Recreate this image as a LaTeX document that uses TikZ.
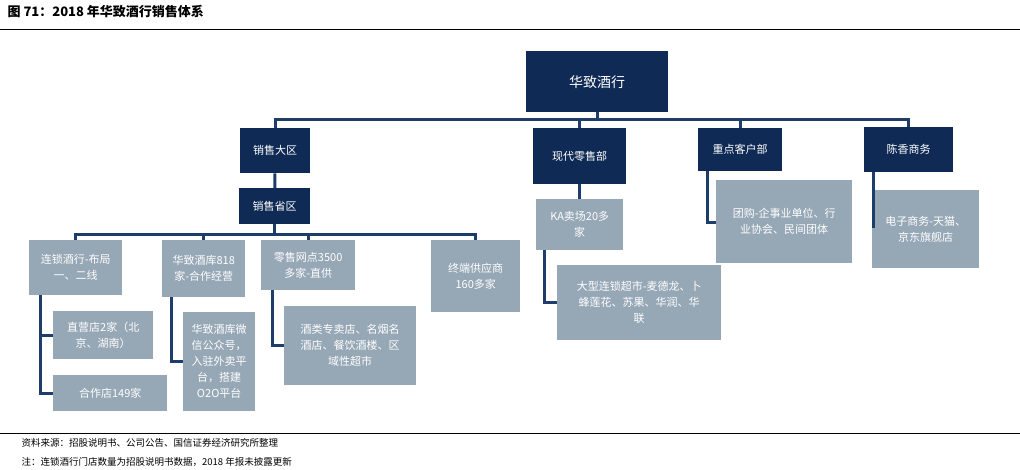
\documentclass[tikz,border=0pt]{standalone}
\usepackage{fontspec}
\setmainfont{Noto Sans CJK SC}
\usetikzlibrary{positioning}
\definecolor{navy}{HTML}{0F2A55}
\definecolor{linkblue}{HTML}{1E3D6B}
\definecolor{steel}{HTML}{96A7B6}
% box: name, left, top, width, height, text
\newcommand{\darkbox}[6]{\node[dark,minimum width=#4pt,minimum height=#5pt] (#1) at (#2pt,-#3pt) {#6};}
\newcommand{\lightbox}[6]{\node[light,minimum width=#4pt,minimum height=#5pt] (#1) at (#2pt,-#3pt) {#6};}
\newcommand{\drop}[3]{\draw[link] (#1.south) -- ++(0,-#3pt) -| (#2.north);}
\newcommand{\side}[3]{\draw[link] ([xshift=#3pt]#1.south west) |- (#2.west);}

\begin{document}
\begin{tikzpicture}[x=1pt,y=1pt,
  dark/.style={fill=navy,text=white,anchor=north west,inner sep=2pt,align=center,font=\fontsize{11}{14}\selectfont},
  light/.style={fill=steel,text=white,anchor=north west,inner sep=2pt,align=center,font=\fontsize{11}{16}\selectfont},
  link/.style={draw=linkblue,line width=3pt}]
    \useasboundingbox (0,0) rectangle (1020,-470);
    \node[anchor=west,font=\bfseries\fontsize{13}{15}\selectfont] (title) at (4,-12) {图 71：2018 年华致酒行销售体系};
    \draw[line width=0.8pt] (0,-29) -- (1020,-29);
    \draw[line width=0.8pt] (0,-433) -- (1020,-433);
    \node[anchor=west,font=\fontsize{9.5}{11}\selectfont] (src) at (18,-443) {资料来源：招股说明书、公司公告、国信证券经济研究所整理};
    \node[anchor=west,font=\fontsize{9.5}{11}\selectfont] (note) at (18,-462) {注：连锁酒行门店数量为招股说明书数据，2018 年报未披露更新};
    % boxes
    \darkbox{top}{526}{51}{142}{61}{\fontsize{14}{16}\selectfont 华致酒行}
    \darkbox{daqu}{240}{128}{70}{45}{销售大区}
    \darkbox{shengqu}{239}{188}{71}{36}{销售省区}
    \darkbox{xiandai}{533}{128}{93}{56}{现代零售部}
    \darkbox{zhongdian}{698}{128}{84}{43}{重点客户部}
    \darkbox{chenxiang}{864}{127}{89}{45}{陈香商务}
    \lightbox{liansuo}{29}{240}{93}{55}{连锁酒行-布局\\一、二线}
    \lightbox{jiuku}{162}{240}{83}{57}{华致酒库818\\家-合作经营}
    \lightbox{lingshou}{261}{240}{94}{50}{零售网点3500\\多家-直供}
    \lightbox{zhongduan}{431}{240}{89}{72}{终端供应商\\160多家}
    \lightbox{zhiying}{53}{311}{100}{48}{直营店2家（北\\京、湖南）}
    \lightbox{hezuo}{53}{375}{114}{36}{合作店149家}
    \lightbox{weixin}{183}{312}{72}{99}{华致酒库微\\信公众号，\\入驻外卖平\\台，搭建\\O2O平台}
    \lightbox{zhuanmai}{284}{306}{132}{79}{酒类专卖店、名烟名\\酒店、餐饮酒楼、区\\域性超市}
    \lightbox{ka}{536}{199}{87}{51}{KA卖场20多\\家}
    \lightbox{chaoshi}{557}{265}{164}{75}{大型连锁超市-麦德龙、卜\\蜂莲花、苏果、华润、华\\联}
    \lightbox{tuangou}{716}{180}{136}{83}{团购-企事业单位、行\\业协会、民间团体}
    \lightbox{dianzi}{872}{190}{107}{78}{电子商务-天猫、\\京东旗舰店}
    % connectors
    \drop{top}{daqu}{7}\drop{top}{xiandai}{7}\drop{top}{zhongdian}{7}\drop{top}{chenxiang}{7}
    \draw[link] (daqu) -- (shengqu);
    \drop{shengqu}{liansuo}{10}\drop{shengqu}{jiuku}{10}\drop{shengqu}{lingshou}{10}\drop{shengqu}{zhongduan}{10}
    \draw[link] (xiandai) -- (ka);
    \side{liansuo}{zhiying}{11}\side{liansuo}{hezuo}{11}
    \side{jiuku}{weixin}{9}\side{lingshou}{zhuanmai}{11}
    \side{ka}{chaoshi}{8}
    \draw[link] ([xshift=9pt]zhongdian.south west) |- ([yshift=-1pt]tuangou.west);
    \draw[link] ([xshift=9pt]chenxiang.south west) -- ++(0,-56);
\end{tikzpicture}
\end{document}
